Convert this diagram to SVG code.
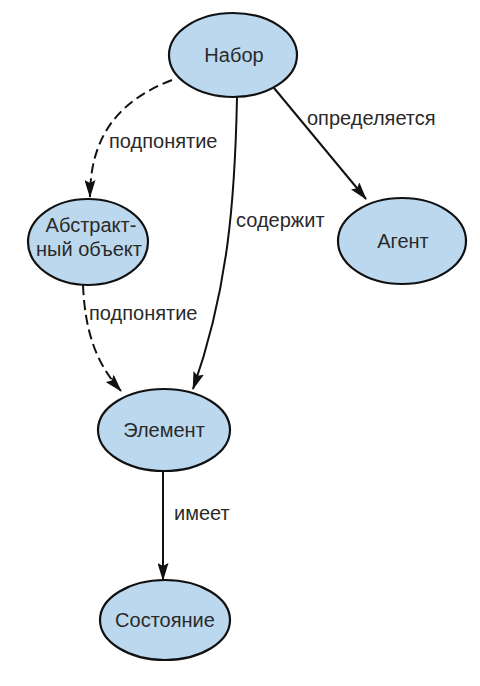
<svg xmlns="http://www.w3.org/2000/svg" width="480" height="686" viewBox="0 0 480 686">
<defs>
<marker id="arr" viewBox="0 0 18 11" refX="17" refY="5.5" markerWidth="18" markerHeight="11" markerUnits="userSpaceOnUse" orient="auto">
<path d="M0,0 L18,5.5 L0,11 L3,5.5 Z" fill="#111"/>
</marker>
<style>
.node ellipse{fill:#bcd8ef;stroke:#111;stroke-width:2.2}
.node text{font-family:"Liberation Sans",Arial,sans-serif;font-size:20px;fill:#2a2a2a;text-anchor:middle}
.edge{fill:none;stroke:#111;stroke-width:2}
.dash{stroke-dasharray:10,5}
.lbl{font-family:"Liberation Sans",Arial,sans-serif;font-size:20px;fill:#2a2a2a}
</style>
</defs>
<rect width="480" height="686" fill="#fff"/>
<g id="connectors">
<path class="edge dash" d="M172,80 C120,100 90,135 90,197" marker-end="url(#arr)"/>
<path class="edge dash" d="M83,285 C85,330 95,362 121,391" marker-end="url(#arr)"/>
<path class="edge" d="M237,97 C235,200 228,290 193,389" marker-end="url(#arr)"/>
<path class="edge" d="M274,88 L366,199" marker-end="url(#arr)"/>
<path class="edge" d="M163,471 L163,580" marker-end="url(#arr)"/>
<text class="lbl" x="109" y="148">подпонятие</text>
<text class="lbl" x="89" y="320">подпонятие</text>
<text class="lbl" x="307" y="125">определяется</text>
<text class="lbl" x="236" y="227">содержит</text>
<text class="lbl" x="174" y="520">имеет</text>
</g>
<g id="nabor" class="node"><ellipse cx="233" cy="55" rx="64" ry="42"/><text x="234" y="62">Набор</text></g>
<g id="abstract" class="node"><ellipse cx="88" cy="242" rx="60" ry="43"/><text x="91" y="232">Абстракт-</text><text x="89" y="256">ный объект</text></g>
<g id="agent" class="node"><ellipse cx="402" cy="241" rx="64" ry="43"/><text x="403" y="248">Агент</text></g>
<g id="element" class="node"><ellipse cx="164" cy="430" rx="66" ry="41"/><text x="164" y="437">Элемент</text></g>
<g id="state" class="node"><ellipse cx="165" cy="620" rx="65" ry="40"/><text x="165" y="627">Состояние</text></g>
</svg>
